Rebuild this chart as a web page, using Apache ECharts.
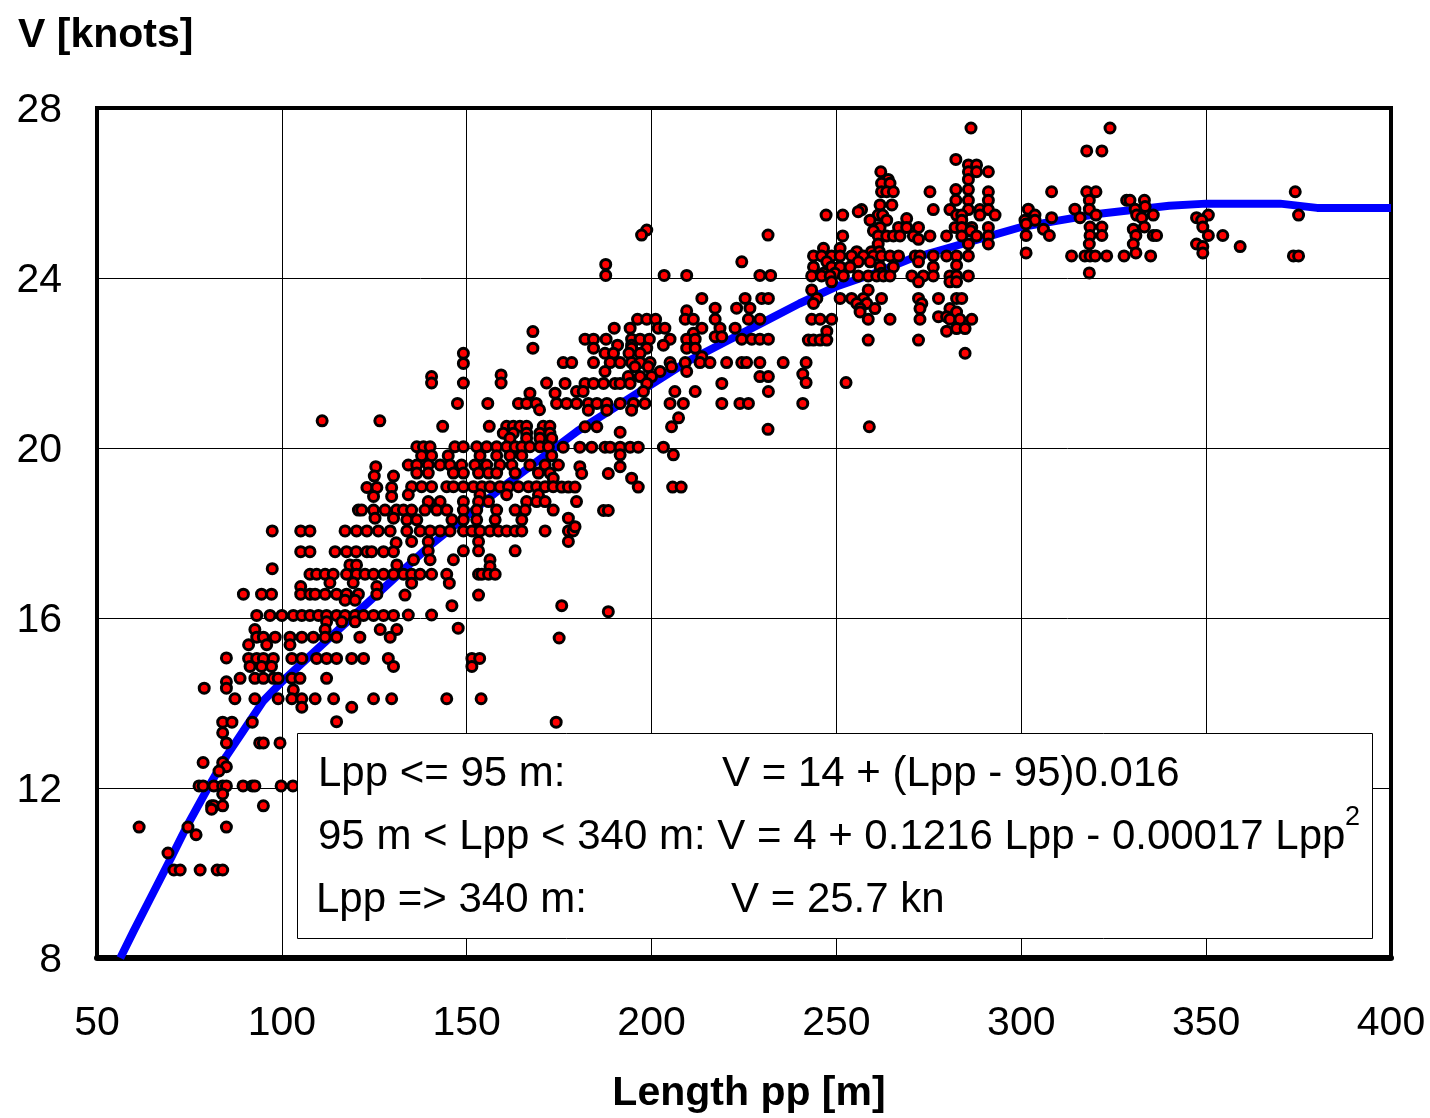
<!DOCTYPE html>
<html>
<head>
<meta charset="utf-8">
<script src="https://cdn.jsdelivr.net/npm/echarts@6/dist/echarts.min.js"></script>
<style>
  body { margin: 0; background: #fff; }
  #main { width: 1430px; height: 1118px; }
</style>
</head>
<body>
<div id="main"></div>
<script>
// fitted speed curve
var curveLength = [56.3, 60, 65, 70, 74.3, 80, 85, 90, 95, 100, 110, 120, 130, 140, 150, 160, 170, 180, 190, 200,
    210, 220, 230, 240, 250, 260, 270, 280, 290, 300, 310, 320, 330, 340, 350, 370, 380, 400];
var curveSpeed = [8, 8.65, 9.5, 10.35, 11.1, 12, 12.75, 13.4, 14.05, 14.5, 15.3, 16.1, 16.9, 17.7, 18.4, 19.1, 19.75, 20.4, 20.95, 21.5,
    22.05, 22.5, 22.95, 23.4, 23.8, 24.1, 24.45, 24.7, 24.95, 25.2, 25.35, 25.5, 25.6, 25.7, 25.75, 25.75, 25.65, 25.65];

// ships, written as rows: [speed, [lengths...]]
var shipsSmall = [
    [15.06, [85]], [14.5, [85]], [14.35, [79, 85]], [13.55, [84, 86.5, 92]], [13.3, [84]],
    [13.06, [85, 94, 95, 99.5]], [12.6, [78.7, 84]], [12.5, [85]], [12.4, [83]],
    [12.05, [77.6, 78.7, 81.6, 84, 85, 89.5, 92, 92.7, 99.8, 103]], [11.86, [84]],
    [11.58, [81, 81.6, 84, 95]], [11.5, [81]], [11.08, [61.4, 74.6, 85]], [10.9, [76.8]],
    [10.47, [69.2]], [10.07, [70.8, 72.5, 77.9, 82.5, 84]]
];
var shipsFeeder = [
    [20.64, [110.9, 126.5]], [19.56, [125.4]], [19.34, [125, 130.2]], [19.07, [123, 125.7, 129.7]],
    [18.86, [124.8, 129.7]], [18.54, [120.7, 121.6, 124.8, 127.9, 131]], [18.35, [125.2, 130.2]],
    [18.05, [97.4, 105.1, 107.6, 117.1, 120.2, 123, 126.1, 129.3]], [17.77, [130.9]],
    [17.56, [105.1, 107.6, 114.4, 117.5, 120.1, 123, 124.3, 127.5, 130.2]], [17.25, [118.4, 120.2, 131.1]],
    [17.16, [97.4]], [17.03, [107.6, 109.4, 111.7, 113.9, 117.5, 120.2, 122.5, 124.8, 127.5, 130.2]],
    [16.83, [113, 119.3]], [16.74, [105.1, 125.7]],
    [16.56, [89.6, 94.5, 97.2, 105.1, 107.6, 109, 111.7, 114.8, 117.5, 120.7, 125.7]], [16.42, [117.1, 119.8]],
    [16.06, [93.2, 96.8, 100, 103.1, 105.4, 107.6, 109.9, 112.1, 114.8, 117.1, 119.8, 122.1, 124.8, 127.5, 130.2]],
    [15.91, [112.1, 116.2, 119.8]], [15.73, [92.7, 111.7, 126.6, 131.1]],
    [15.55, [93.2, 95, 98.2, 102.2, 105.4, 108.5, 111.7, 114.8, 121.1, 129.3]], [15.37, [91, 95.9, 102.2]],
    [15.05, [91, 93.2, 95, 97.7, 102.7, 105.4, 109.4, 112.1, 114.8, 118.9, 122.1, 128.8, 151.4, 153.5]],
    [14.86, [91.4, 94.5, 97.2, 130.2, 151.4]], [14.58, [88.7, 92.7, 95, 97.7, 99, 102.7, 104.9, 112.1]],
    [14.31, [103.1]], [14.1, [87.3, 92.7, 99, 102.7, 105.4, 109, 114, 124.8, 129.7, 144.6, 153.9]],
    [13.9, [105.4, 118.9]], [13.56, [114.8]]
];
var shipsMedium = [
    [22.74, [167.9]], [22.35, [167.9]], [22.23, [149.1]], [21.99, [149.1]], [21.72, [159.3]], [21.68, [140.5]],
    [21.53, [140.5, 149.1, 159.3, 171.6]], [21.29, [167.1, 173.9]], [21.05, [147.5, 155.7, 164, 166.2, 168.8, 174.3]],
    [20.9, [169.7]], [20.51, [143.5, 156.1, 160.8, 162.6, 164.4, 166.2, 170.7, 172.5]],
    [20.35, [159.9, 162.6, 166.2, 169.8, 172.5]], [20.23, [161.7, 166.2, 169.8, 173]],
    [20.03, [136.5, 138.3, 140.1, 146.8, 149.1, 152.7, 155.4, 158.1, 160.8, 163.1, 164.9, 167.1, 169.8, 172.1]],
    [19.82, [137.8, 140.5, 145, 153.6, 158.1, 161.7, 164.9, 173]],
    [19.6, [134.2, 136.5, 139.6, 142.8, 145.5, 148.6, 152.2, 155.4, 159, 162.2, 167.1, 171.2, 174.8]],
    [19.41, [136.5, 139.6, 146.4, 149.1, 153.2, 155.9, 158.1, 163.1, 169.4, 172.5]], [19.29, [173.4]],
    [19.09, [135.1, 137.8, 140.5, 144.6, 146.4, 149.1, 151.8, 154.1, 156.3, 159, 161.3, 164, 166.7, 168.9, 171.2, 173.4]],
    [18.9, [134.2, 153.6, 160.8, 169.4]], [18.74, [139.6, 142.8, 149.1, 153.2, 155.9, 166.2, 168.9, 171.2]],
    [18.54, [132.9, 135.1, 138.7, 141.9, 144.6, 149.1, 152.7, 158.1, 163.1, 165.8, 173.4]],
    [18.31, [133.8, 136.5, 146, 149.1, 152.7, 157.7, 164.9]],
    [18.05, [133.8, 137.4, 140.1, 142.8, 145.5, 149.1, 151.4, 153.6, 156.3, 158.6, 160.8, 163.1, 164.9, 171.2, 177.5, 178.8]],
    [17.8, [135.1, 139.6, 153.2, 177.5]], [17.58, [139.6, 149.1, 153.2, 163.1]], [17.37, [135.6, 140.1, 146.4, 156.3]],
    [17.21, [156.3]], [17.03, [132.9, 135.1, 137.4, 140.5, 144.6, 153.2, 154.1, 155.9, 157.7]],
    [16.82, [135.1, 145.3]], [16.54, [133.3, 153.2]], [16.29, [146, 175.7]], [16.15, [188.3]],
    [16.07, [134.2, 140.5]], [15.76, [147.7]], [15.53, [175]], [13.55, [174.2]]
];
var shipsLarge = [
    [25.13, [198.7]], [25.01, [197.3, 231.5]], [24.38, [224.4]], [24.32, [187.6]],
    [24.06, [187.6, 203.4, 209.5, 229.3, 232.2]], [23.52, [213.6, 225.3, 229.8, 231.6]],
    [23.29, [217.2, 223, 226.6]], [23.23, [209.5]],
    [23.03, [196.2, 198.7, 201.1, 209.1, 211.3, 217.2, 226.2, 229.3]],
    [22.82, [189.9, 194.2, 201.8, 203.6, 213.6, 218.5, 222.6]], [22.7, [211.3]], [22.62, [217.2, 219]],
    [22.56, [182, 184.3, 187.7, 194.6, 196.9, 199.4, 205, 209.5, 211.8, 224.4, 227.1, 229.3, 231.6]],
    [22.42, [190.8, 194.6, 203.2]], [22.35, [184.3, 194.6, 198.7, 209.5, 211.8]],
    [22.23, [187.4, 189.7, 193.9, 196.9]], [22.15, [213.6]],
    [22.01, [176.1, 178.4, 184.3, 188.8, 191.5, 194.6, 196.9, 199.6, 205, 209.1, 213.1, 215.8, 220.3, 224.4, 225.7, 229.3]],
    [21.91, [195.5, 199.1, 205.4]], [21.8, [187.4, 202.3, 209.5]], [21.68, [193.7, 196.9, 200, 229.3, 231.6]],
    [21.52, [176.6, 182, 184.3, 187, 190.1, 191.5, 194.2, 198.7, 219]],
    [21.33, [179.7, 181.5, 197.8, 206.3, 211.8, 231.6]],
    [21.05, [177, 179.7, 182.9, 185.2, 187.9, 191.5, 195.1, 198.2, 205, 208.6, 219, 223.9, 226.2]],
    [20.89, [182.9, 187.9, 194.6]], [20.71, [207.3]], [20.5, [182, 185.2, 205.4]], [20.44, [231.5]],
    [20.37, [191.5]], [20.02, [176.1, 180.6, 183.8, 187.4, 188.8, 191.5, 194.2, 196.4, 203.2]],
    [19.84, [191.5, 205.9]], [19.56, [180.6, 191.5]], [19.4, [181.1, 188.3]], [19.29, [194.6]],
    [19.08, [175.7, 177.5, 179.3, 196.4, 205.7, 208]], [18.74, [179.7]], [18.53, [187, 188.3]],
    [18.35, [177.5]], [18.15, [179.3]]
];
var shipsPanamax = [
    [27.53, [286.4]], [26.79, [282.3]], [26.66, [285.7, 287.9]], [26.5, [262, 285.7, 287.9, 291.1]],
    [26.32, [264, 285.7]], [26.23, [262.2, 264.5]], [26.08, [282.3, 285.7]],
    [26.03, [262.2, 263.6, 265.4, 275.3, 291.1]], [25.83, [282.3, 285.7, 291.1]], [25.72, [261.8, 265]],
    [25.61, [256.8, 276.2, 280.7, 285.7, 288.8, 291.1]], [25.56, [255.9]],
    [25.48, [247.2, 251.7, 261.3, 262.5, 282.5, 283.9, 288.8, 292.9]], [25.4, [269]], [25.36, [259.1, 263.6, 283.9]],
    [25.19, [261.8, 266.8, 269, 272.2, 282.1, 283.9, 286.6, 291.1]], [25.11, [260, 286.3]],
    [24.99, [251.7, 261.3, 263.6, 265.4, 267.2, 270.8, 275.3, 279.8, 283.9, 287.9, 291.1]], [24.91, [272.2]],
    [24.8, [261.3, 285.7, 291.1]], [24.7, [246.5, 251]], [24.62, [255.5, 259.5, 261.6]],
    [24.52, [243.8, 246, 248.7, 251, 254.1, 257.3, 260, 262.2, 264.5, 266.8, 271.3, 272.6, 276.2, 279.8, 282.5, 285.7]],
    [24.38, [247.4, 255.9, 259.1, 272.2]], [24.3, [282.5]],
    [24.26, [243.8, 248.7, 251, 253.7, 261.8, 265.4, 276.2]], [24.11, [246.5, 249.6, 262.2]],
    [24.05, [243.3, 246, 248.3, 251.9, 255.9, 258.6, 260.9, 262.7, 264.5, 270.4, 273.5, 276.2, 280.7, 282.5, 285.7]],
    [23.91, [248.7, 272.2, 280.7, 282.5]], [23.72, [243.3, 258.6]],
    [23.52, [244.7, 251, 254.1, 257.3, 262.2, 272.2, 277.6, 282.5, 283.9]],
    [23.4, [243.8, 255.5, 258.2, 273.1]], [23.28, [256.4, 260.4, 272.6, 280.7]], [23.2, [256.4, 282.5]],
    [23.09, [277.6, 279.8]], [23.03, [243.3, 245.6, 248.7, 258.6, 264.5, 272.6, 280.7, 283.4, 286.6]],
    [22.81, [282.5, 284.8]], [22.75, [247.4, 279.8]], [22.54, [242.4, 243.8, 245.6, 247.4, 258.6, 272.2]],
    [22.23, [284.8]], [22.01, [235.6, 241.8]], [21.74, [240.9]], [21.54, [241.8, 252.6]],
    [21.05, [240.9]], [20.5, [258.9]]
];
var shipsPostPanamax = [
    [27.53, [324]], [26.99, [317.7, 321.8]], [26.03, [308.2, 317.7, 320.2, 374.1]],
    [25.83, [318.4, 328.5, 329.4, 333.3]], [25.68, [333.5]], [25.62, [301.9, 314.5, 318.4, 330.8]],
    [25.48, [303.7, 320.2, 331.2, 335.7, 350.6, 375]], [25.42, [308.2, 315.9, 332.6, 347.4]],
    [25.36, [301, 303.7, 348.8]], [25.27, [301.3]], [25.2, [318.6, 321.8, 333.3, 349.1]], [25.15, [306, 330.3]],
    [25, [301.3, 307.6, 318.6, 321.8, 331, 335.7, 336.6, 350.6, 354.5]], [24.8, [318.4, 330.3, 347.4]],
    [24.74, [349.1, 359.2]], [24.59, [301.3, 331, 349.1]],
    [24.52, [313.6, 317.2, 318.6, 320, 323.1, 327.8, 335, 373.6, 375]], [24.12, [318.4]]
];

var xTicks = { min: 50, max: 400, step: 50 };
var yTicks = { min: 8, max: 28, step: 4 };

var FONT = '"Liberation Sans", Arial, Helvetica, sans-serif';

function rowsToPoints(rows) {
    var out = [];
    rows.forEach(function (r) {
        r[1].forEach(function (len) { out.push([len, r[0]]); });
    });
    return out;
}

var shipPoints = [].concat(
    rowsToPoints(shipsSmall), rowsToPoints(shipsFeeder), rowsToPoints(shipsMedium),
    rowsToPoints(shipsLarge), rowsToPoints(shipsPanamax), rowsToPoints(shipsPostPanamax)
);
var curvePoints = curveLength.map(function (l, i) { return [l, curveSpeed[i]]; });

var myChart = echarts.init(document.getElementById('main'));
var option = {
    animation: false,
    backgroundColor: '#fff',
    grid: {
        left: 97, top: 108, right: 39, bottom: 160,
        show: true,
        borderColor: '#000',
        borderWidth: 4,
        backgroundColor: '#fff'
    },
    xAxis: {
        type: 'value',
        min: xTicks.min, max: xTicks.max, interval: xTicks.step,
        axisLine: { show: true, onZero: false, lineStyle: { color: '#000', width: 6 } },
        axisTick: { show: false },
        axisLabel: { color: '#000', fontSize: 41, fontFamily: FONT, margin: 45 },
        splitLine: { show: true, lineStyle: { color: '#000', width: 1 } }
    },
    yAxis: {
        type: 'value',
        min: yTicks.min, max: yTicks.max, interval: yTicks.step,
        axisLine: { show: false },
        axisTick: { show: false },
        axisLabel: {
            margin: 35,
            formatter: '{t|{value}}',
            rich: { t: { color: '#000', fontSize: 41, fontFamily: FONT, padding: [6, 0, 0, 0] } }
        },
        splitLine: { show: true, lineStyle: { color: '#000', width: 1 } }
    },
    series: [
        {
            type: 'line',
            data: curvePoints,
            showSymbol: false,
            symbol: 'none',
            lineStyle: { color: '#0000ff', width: 8 },
            z: 2
        },
        {
            type: 'scatter',
            data: shipPoints,
            symbol: 'circle',
            symbolSize: 10,
            itemStyle: { color: '#ff0000', borderColor: '#000', borderWidth: 3, opacity: 1 },
            z: 3
        }
    ],
    graphic: [
        {
            type: 'text', left: 18, top: 15, z: 100,
            style: { text: 'V [knots]', fontSize: 41, fontWeight: 'bold', fontFamily: FONT, fill: '#000' }
        },
        {
            type: 'text', x: 749, y: 1094, z: 100,
            style: { text: 'Length pp [m]', fontSize: 41, fontWeight: 'bold', fontFamily: FONT, fill: '#000',
                align: 'center', verticalAlign: 'middle' }
        },
        {
            type: 'rect', z: 100,
            shape: { x: 297.5, y: 733.5, width: 1075, height: 205 },
            style: { fill: '#fff', stroke: '#000', lineWidth: 1 }
        },
        {
            type: 'text', x: 318, y: 774, z: 101,
            style: { text: 'Lpp <= 95 m:', fontSize: 42, fontFamily: FONT, fill: '#000', verticalAlign: 'middle' }
        },
        {
            type: 'text', x: 722, y: 774, z: 101,
            style: { text: 'V = 14 + (Lpp - 95)0.016', fontSize: 42, fontFamily: FONT, fill: '#000', verticalAlign: 'middle' }
        },
        {
            type: 'text', x: 318, y: 837, z: 101,
            style: { text: '95 m < Lpp < 340 m: V = 4 + 0.1216 Lpp - 0.00017 Lpp', fontSize: 42, fontFamily: FONT,
                fill: '#000', verticalAlign: 'middle' }
        },
        {
            type: 'text', x: 1345, y: 818, z: 101,
            style: { text: '2', fontSize: 27, fontFamily: FONT, fill: '#000', verticalAlign: 'middle' }
        },
        {
            type: 'text', x: 316, y: 900, z: 101,
            style: { text: 'Lpp => 340 m:', fontSize: 42, fontFamily: FONT, fill: '#000', verticalAlign: 'middle' }
        },
        {
            type: 'text', x: 731, y: 900, z: 101,
            style: { text: 'V = 25.7 kn', fontSize: 42, fontFamily: FONT, fill: '#000', verticalAlign: 'middle' }
        }
    ]
};
myChart.setOption(option);
</script>
</body>
</html>
